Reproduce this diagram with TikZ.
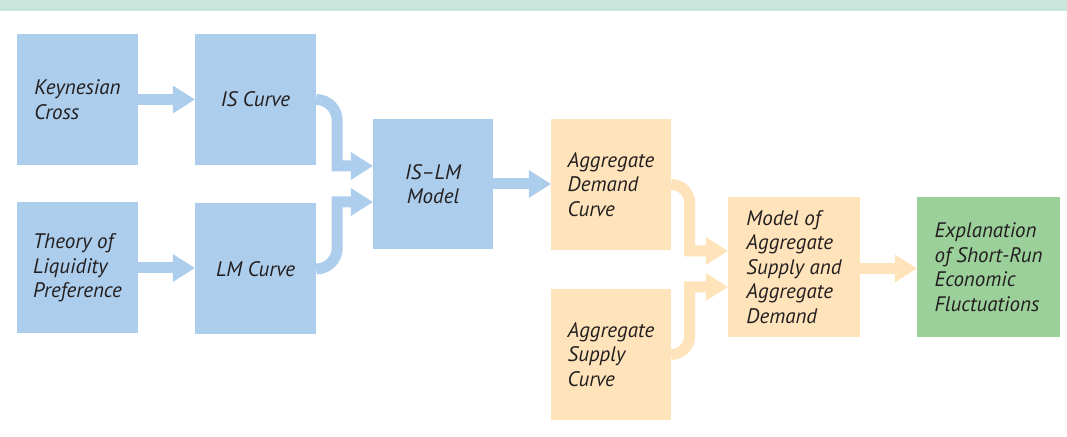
\documentclass[tikz,border=0pt]{standalone}
\usepackage{fontspec}
\setmainfont{PT Sans}
\usetikzlibrary{arrows.meta}
\definecolor{bbox}{RGB}{172,205,235}
\definecolor{obox}{RGB}{255,227,186}
\definecolor{gbox}{RGB}{156,208,155}
\definecolor{bandc}{RGB}{202,230,220}
\definecolor{ink}{RGB}{35,31,32}
\begin{document}
\begin{tikzpicture}[x=1pt,y=1pt,
  box/.style={inner sep=0pt, text=ink, align=left,
    font=\itshape\fontsize{21}{24.6}\selectfont},
  bluebox/.style={box, fill=bbox},
  orangebox/.style={box, fill=obox},
  greenbox/.style={box, fill=gbox},
  flow/.style={line width=11pt, line join=miter,
    -{Triangle[length=22pt,width=28pt,line width=0pt]}},
  bflow/.style={flow, draw=bbox, fill=none},
  oflow/.style={flow, draw=obox, fill=none}]
\useasboundingbox (0,0) rectangle (1067,436);
\fill[bandc] (0,425) rectangle (1067,436);

\node[bluebox, minimum width=121pt, minimum height=131pt] (KC) at (77.5,336.5) {Keynesian\\Cross};
\node[bluebox, minimum width=121pt, minimum height=131pt, align=center] (IS) at (255.5,336.5) {IS Curve};
\node[bluebox, minimum width=121pt, minimum height=131pt] (TLP) at (77.5,168) {Theory of\\Liquidity\\Preference};
\node[bluebox, minimum width=121pt, minimum height=131pt, align=center] (LM) at (255.5,167) {LM Curve};
\node[bluebox, minimum width=120pt, minimum height=130pt, align=center] (ISLM) at (433,252) {IS--LM\\Model};
\node[orangebox, minimum width=120pt, minimum height=131pt] (AD) at (611,251.5) {Aggregate\\Demand\\Curve};
\node[orangebox, minimum width=120pt, minimum height=131pt] (AS) at (611,81.5) {Aggregate\\Supply\\Curve};
\node[orangebox, minimum width=132pt, minimum height=140pt] (MOD) at (794,169) {Model of\\Aggregate\\Supply and\\Aggregate\\Demand};
\node[greenbox, minimum width=143pt, minimum height=140pt] (EXP) at (988.5,169) {Explanation\\of Short-Run\\Economic\\Fluctuations};

\draw[bflow] (KC.east) -- (IS.west);
\draw[bflow] (TLP.east) -- (TLP.east -| LM.west);
\draw[bflow] (IS.east) arc[start angle=90, end angle=0, radius=21pt] |- ([yshift=18pt]ISLM.west);
\draw[bflow] (LM.east) arc[start angle=270, end angle=360, radius=21pt] |- ([yshift=-18pt]ISLM.west);
\draw[bflow] (ISLM.east) -- (ISLM.east -| AD.west);
\draw[oflow] (AD.east) arc[start angle=90, end angle=0, radius=18.5pt] |- ([yshift=16pt]MOD.west);
\draw[oflow] (AS.east) arc[start angle=270, end angle=360, radius=18.5pt] |- ([yshift=-20pt]MOD.west);
\draw[oflow] ([yshift=-1.5pt]MOD.east) -- ([yshift=-1.5pt]EXP.west);
\end{tikzpicture}
\end{document}
